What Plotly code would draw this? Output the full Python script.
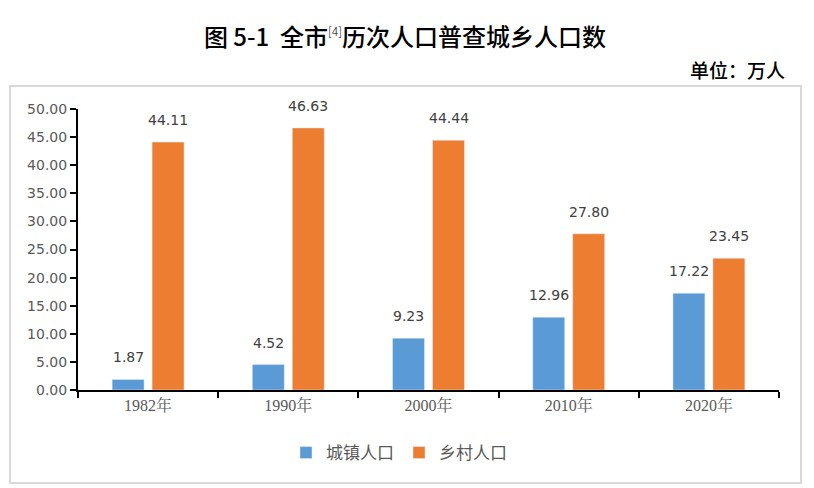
import plotly.graph_objects as go

years = ["1982年", "1990年", "2000年", "2010年", "2020年"]
urban = [1.87, 4.52, 9.23, 12.96, 17.22]
rural = [44.11, 46.63, 44.44, 27.80, 23.45]

FONT = "DejaVu Sans, Noto Sans CJK SC, sans-serif"
CJK = "Noto Sans CJK SC, sans-serif"
SERIF = "Liberation Serif, Noto Serif CJK SC, Noto Sans CJK SC, serif"

# plot area in pixels: x 78..779, y 109..390
L, R, T, B = 78, 814 - 779, 109, 488 - 390
PW, PH = 779 - 78, 390 - 109


def px(x):
    return (x - L) / PW


def py(y):
    return (390 - y) / PH


fig = go.Figure()
series = [("城镇人口", urban, "#5B9BD5", -20), ("乡村人口", rural, "#ED7D31", 20)]
for name, vals, color, shift in series:
    fig.add_trace(go.Bar(
        x=years, y=vals, name=name,
        marker=dict(color=color),
    ))
    # value labels sit a little higher above the bars than plotly's outside text
    for yr, v in zip(years, vals):
        fig.add_annotation(
            x=yr, y=v, text=f"{v:.2f}", showarrow=False,
            xshift=shift, yshift=22, yanchor="middle",
            font=dict(size=14, color="#404040", family=FONT),
        )

fig.update_layout(
    width=814, height=488,
    margin=dict(l=L, r=R, t=T, b=B, autoexpand=False),
    paper_bgcolor="white", plot_bgcolor="white",
    barmode="group", bargap=0.43, bargroupgap=0.2,
    title=dict(
        text="图 5-1  全市<sup><span style='font-size:12px;font-weight:300'>[4]</span></sup>历次人口普查城乡人口数",
        x=405 / 814, xanchor="center", y=1 - 38 / 488, yanchor="middle",
        font=dict(size=24, color="black", family=CJK, weight=500),
    ),
    legend=dict(
        orientation="h", x=px(399), xanchor="center", y=py(453), yanchor="middle",
        font=dict(size=17, color="#595959", family=CJK),
        itemwidth=30, tracegroupgap=0,
    ),
    showlegend=True,
)

fig.update_yaxes(
    range=[0, 50], dtick=5, tickformat=".2f", automargin=False,
    showgrid=False, zeroline=False,
    showline=True, linecolor="black", linewidth=2,
    ticks="outside", ticklen=6, tickcolor="black", tickwidth=2,
    tickfont=dict(size=14, color="#595959", family=FONT),
)
fig.update_xaxes(
    automargin=False, showgrid=False,
    showline=True, linecolor="black", linewidth=2,
    ticks="outside", tickson="boundaries", ticklen=6, tickcolor="black", tickwidth=2,
    tickfont=dict(size=16, color="#595959", family=SERIF),
)

# outer chart border
fig.add_shape(
    type="rect", xref="paper", yref="paper",
    x0=px(10), x1=px(801), y0=py(483), y1=py(86),
    line=dict(color="#D9D9D9", width=2), fillcolor="rgba(0,0,0,0)", layer="below",
)

fig.add_annotation(
    text="单位：万人", xref="paper", yref="paper",
    x=px(787), xanchor="right", y=py(69), yanchor="middle",
    showarrow=False, font=dict(size=19, color="black", family=CJK, weight=500),
)

# drop the browser's default body margin so the figure sits at (0, 0)
fig.write_html(
    "out.html",
    config={"displayModeBar": False},
    post_script="document.body.style.margin='0';",
)
